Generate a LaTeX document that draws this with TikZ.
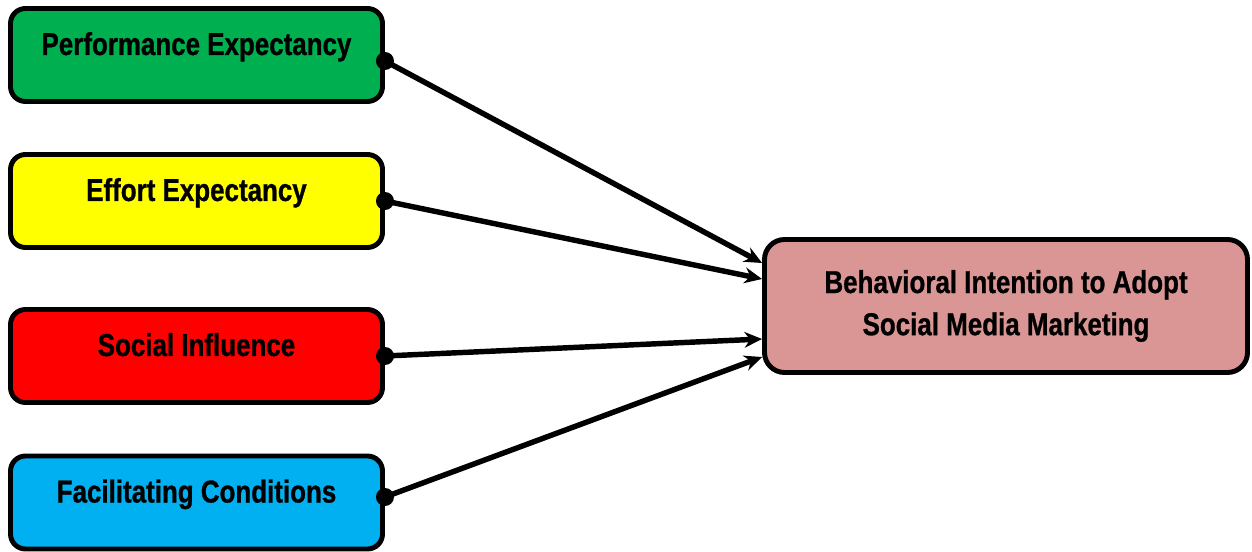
\documentclass[tikz,border=0pt]{standalone}
\usepackage{fontspec}
\setmainfont{Liberation Sans}[FakeStretch=0.82, BoldFeatures={FakeBold=0.8}]
\usepackage{xcolor}
\usetikzlibrary{arrows.meta}

\definecolor{peGreen}{RGB}{0,176,80}
\definecolor{eeYellow}{RGB}{255,255,0}
\definecolor{siRed}{RGB}{255,0,0}
\definecolor{fcBlue}{RGB}{0,176,240}
\definecolor{biPink}{RGB}{218,150,148}

\begin{document}
\begin{tikzpicture}[>={Stealth[length=10pt,width=9pt]},
  factor/.style={draw, line width=2.8pt, rounded corners=0.3cm, minimum width=7.44cm, minimum height=1.86cm,
    text height=12pt, text depth=12pt, font=\fontsize{18}{24}\selectfont\bfseries},
  outcome/.style={draw, line width=2.8pt, rounded corners=0.4cm, minimum width=9.66cm, minimum height=2.66cm,
    align=center, font=\fontsize{18}{24}\selectfont\bfseries},
  link/.style={->, line width=3.1pt},
  dot/.style={fill=black}]

\useasboundingbox (0,0) rectangle (25.04,-11.04);

\node[factor, fill=peGreen] (pe) at (3.93,-1.10) {Performance Expectancy};
\node[factor, fill=eeYellow] (ee) at (3.93,-4.02) {Effort Expectancy};
\node[factor, fill=siRed] (si) at (3.93,-7.12) {Social Influence};
\node[factor, fill=fcBlue] (fc) at (3.93,-10.05) {Facilitating Conditions};

\node[outcome, fill=biPink] (bi) at (20.12,-6.12) {Behavioral Intention to Adopt\\Social Media Marketing};

\draw[link] ([yshift=-0.12cm]pe.east) -- ([yshift=0.86cm]bi.west);
\draw[link] (ee.east) -- ([yshift=0.54cm]bi.west);
\draw[link] (si.east) -- ([yshift=-0.66cm]bi.west);
\draw[link] ([yshift=0.11cm]fc.east) -- ([yshift=-1.02cm]bi.west);

\fill[dot] ([yshift=-0.12cm]pe.east) circle (0.18cm);
\fill[dot] (ee.east) circle (0.18cm);
\fill[dot] (si.east) circle (0.18cm);
\fill[dot] ([yshift=0.11cm]fc.east) circle (0.18cm);

\end{tikzpicture}
\end{document}
